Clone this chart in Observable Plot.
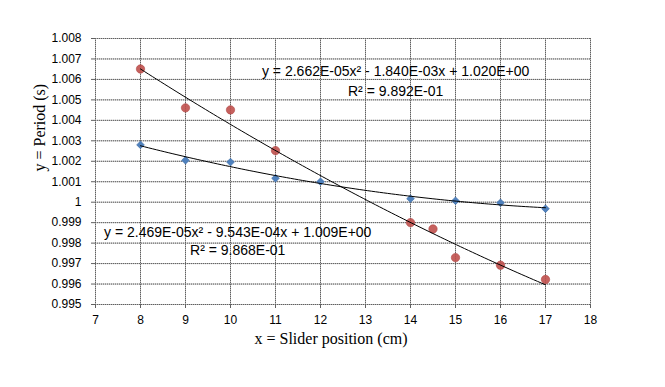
<!DOCTYPE html>
<html><head><meta charset="utf-8">
<script src="https://cdn.jsdelivr.net/npm/d3@7"></script>
<script src="https://cdn.jsdelivr.net/npm/@observablehq/plot@0.6"></script>
<style>body{margin:0;background:#fff}</style>
</head><body><div id="chart"></div>
<script>
// Series A (blue diamonds)
const blueX = [8, 9, 10, 11, 12, 14, 15, 16, 17];
const blueY = [1.0028, 1.00205, 1.00196, 1.00117, 1.0010, 1.00017, 1.00007, 0.99997, 0.99968];
// Series B (red circles)
const redX = [8, 9, 10, 11, 14, 14.5, 15, 16, 17];
const redY = [1.00651, 1.00461, 1.00451, 1.00252, 0.9990, 0.99869, 0.99729, 0.99692, 0.99622];
// Tick labels
const xTicks = [7, 8, 9, 10, 11, 12, 13, 14, 15, 16, 17, 18];
const yTicks = [0.995, 0.996, 0.997, 0.998, 0.999, 1, 1.001, 1.002, 1.003, 1.004, 1.005, 1.006, 1.007, 1.008];
// Trendline equation labels (data-space anchors)
const eqText = ["y = 2.662E-05x² - 1.840E-03x + 1.020E+00", "R² = 9.892E-01",
                "y = 2.469E-05x² - 9.543E-04x + 1.009E+00", "R² = 9.868E-01"];
const eqX = [13.67, 13.67, 10.16, 10.16];
const eqY = [1.00638, 1.0054, 0.99854, 0.99765];
const xTitle = "x = Slider position (cm)";
const yTitle = "y = Period (s)";

const blue = blueX.map((x, i) => ({x, y: blueY[i]}));
const red = redX.map((x, i) => ({x, y: redY[i]}));
const labels = eqText.map((t, i) => ({text: t, x: eqX[i], y: eqY[i]}));

// least-squares quadratic fit (polynomial trendline, as in the source)
function quadFit(pts) {
  const S = k => d3.sum(pts, p => Math.pow(p.x, k));
  const T = k => d3.sum(pts, p => p.y * Math.pow(p.x, k));
  const A = [[S(4), S(3), S(2)], [S(3), S(2), S(1)], [S(2), S(1), S(0)]];
  const b = [T(2), T(1), T(0)];
  for (let i = 0; i < 3; i++) {
    for (let j = i + 1; j < 3; j++) {
      const f = A[j][i] / A[i][i];
      for (let k = i; k < 3; k++) A[j][k] -= f * A[i][k];
      b[j] -= f * b[i];
    }
  }
  const c = [0, 0, 0];
  for (let i = 2; i >= 0; i--) {
    let s = b[i];
    for (let k = i + 1; k < 3; k++) s -= A[i][k] * c[k];
    c[i] = s / A[i][i];
  }
  const [xmin, xmax] = d3.extent(pts, p => p.x);
  return d3.range(0, 101).map(i => {
    const x = xmin + (xmax - xmin) * i / 100;
    return {x, y: c[0] * x * x + c[1] * x + c[2]};
  });
}
const blueFit = quadFit(blue);
const redFit = quadFit(red);

const chart = Plot.plot({
  width: 665,
  height: 387,
  marginLeft: 95,
  marginRight: 75,
  marginTop: 38,
  marginBottom: 83,
  style: {fontFamily: "Liberation Sans, sans-serif", fontSize: "12px", background: "#fff", color: "#000"},
  x: {domain: [7, 18]},
  y: {domain: [0.995, 1.008]},
  marks: [
    Plot.gridX(xTicks, {stroke: "#b4b4b4", strokeOpacity: 1}),
    Plot.gridY(yTicks, {stroke: "#b4b4b4", strokeOpacity: 1}),
    Plot.gridX(xTicks, {stroke: "#606060", strokeOpacity: 1, strokeDasharray: "1,1"}),
    Plot.gridY(yTicks, {stroke: "#606060", strokeOpacity: 1, strokeDasharray: "1,1"}),
    Plot.axisX(xTicks, {tickSize: 4, tickPadding: 7, stroke: "#606060", fill: "#000", fontSize: 12, label: null, tickFormat: d => String(d)}),
    Plot.axisY(yTicks, {tickSize: 4, tickPadding: 10, stroke: "#606060", fill: "#000", fontSize: 12, label: null, tickFormat: d => String(+d.toFixed(3))}),
    Plot.dot(blue, {x: "x", y: "y", symbol: "diamond2", r: 3.5, fill: "#4f81bd", stroke: "#3f6fa8", strokeWidth: 0.6}),
    Plot.dot(red, {x: "x", y: "y", symbol: "circle", r: 4.2, fill: "#c0504d", stroke: "#b04744", strokeWidth: 0.6, fillOpacity: 0.9}),
    Plot.line(redFit, {x: "x", y: "y", stroke: "#000", strokeWidth: 1}),
    Plot.line(blueFit, {x: "x", y: "y", stroke: "#000", strokeWidth: 1}),
    Plot.text(labels, {x: "x", y: "y", text: "text", fontSize: 14, fill: "#000", fontFamily: "Liberation Sans, sans-serif"}),
    Plot.text([xTitle], {frameAnchor: "bottom", dx: -12, dy: 39, fontSize: 16, fontFamily: "Liberation Serif, serif", fill: "#000"}),
    Plot.text([yTitle], {frameAnchor: "left", dx: -56, rotate: -90, fontSize: 16, fontFamily: "Liberation Serif, serif", fill: "#000"})
  ]
});
document.getElementById("chart").appendChild(chart);
</script>
</body></html>
